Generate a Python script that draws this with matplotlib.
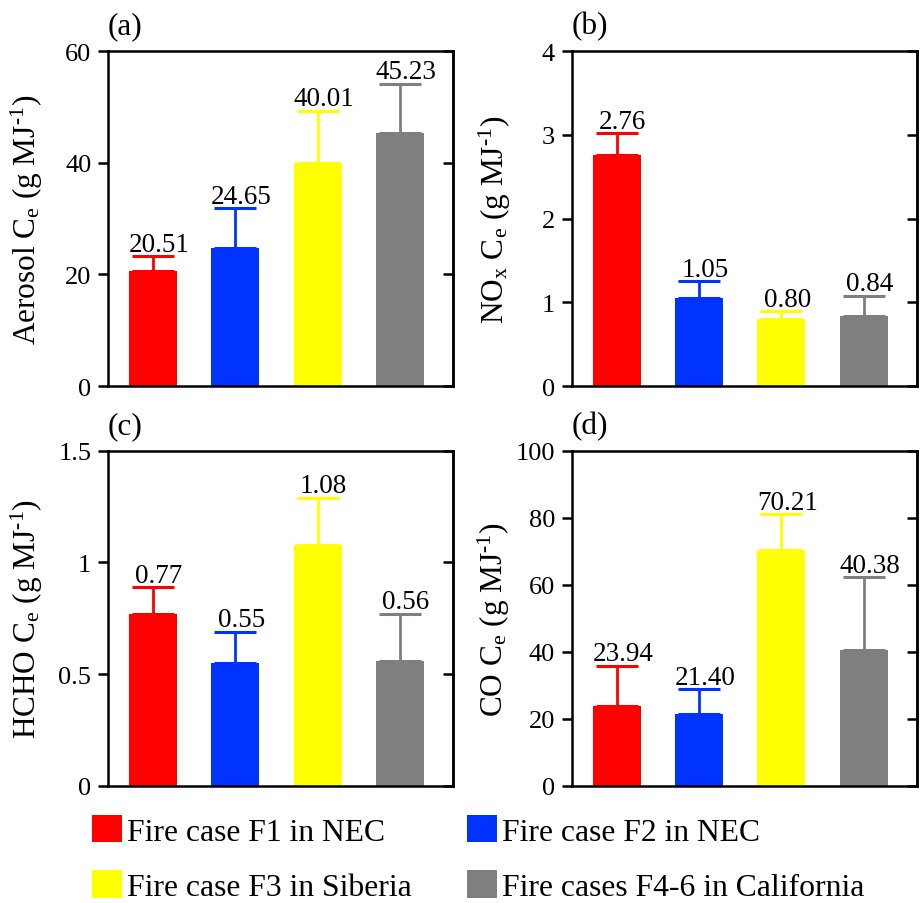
import numpy as np
import matplotlib.pyplot as plt
from matplotlib.patches import Patch
from matplotlib.ticker import FuncFormatter

plt.rcParams['font.family'] = ['Liberation Serif', 'DejaVu Serif']
plt.rcParams['mathtext.fontset'] = 'custom'
plt.rcParams['mathtext.rm'] = 'Liberation Serif'
plt.rcParams['mathtext.it'] = 'Liberation Serif:italic'

# Daten
cases = ['Fire case F1 in NEC', 'Fire case F2 in NEC',
         'Fire case F3 in Siberia', 'Fire cases F4-6 in California']
colors = ['#ff0000', '#0033ff', '#ffff00', '#7f7f7f']

aerosol = [20.51, 24.65, 40.01, 45.23]
aerosol_err = [2.8, 7.25, 9.3, 8.9]
nox = [2.76, 1.05, 0.80, 0.84]
nox_err = [0.26, 0.20, 0.09, 0.24]
hcho = [0.77, 0.55, 1.08, 0.56]
hcho_err = [0.12, 0.14, 0.21, 0.21]
co = [23.94, 21.40, 70.21, 40.38]
co_err = [11.86, 7.5, 10.89, 21.82]

unit = ' (g MJ$^{\\text{-1}}$)'
panels = [
    ('(a)', aerosol, aerosol_err, 'Aerosol C$_\\mathrm{e}$' + unit, [0, 20, 40, 60]),
    ('(b)', nox, nox_err, 'NO$_\\mathrm{x}$ C$_\\mathrm{e}$' + unit, [0, 1, 2, 3, 4]),
    ('(c)', hcho, hcho_err, 'HCHO C$_\\mathrm{e}$' + unit, [0, 0.5, 1, 1.5]),
    ('(d)', co, co_err, 'CO C$_\\mathrm{e}$' + unit, [0, 20, 40, 60, 80, 100]),
]

W, H = 923, 904
fig = plt.figure(figsize=(W / 100, H / 100), dpi=100)

# Achsenpositionen in Pixel (links, oben)
boxes = [(108, 52), (571.7, 52), (108, 451.7), (571.7, 451.7)]
aw, ah = 345, 335
label_x = [-0.183, -0.169, -0.183, -0.174]

x = np.arange(4)
lw = 1.8

for i, (tag, vals, errs, ylab, yt) in enumerate(panels):
    l, t = boxes[i]
    ax = fig.add_axes([l / W, 1 - (t + ah) / H, aw / W, ah / H])
    ax.bar(x, vals, width=0.583, color=colors, linewidth=0, zorder=2)
    for xi, v, e, c in zip(x, vals, errs, colors):
        ax.errorbar(xi, v, yerr=[[0], [e]], fmt='none', ecolor=c,
                    elinewidth=2.0, capsize=14.8, capthick=2.2, zorder=3)
        ax.annotate(f'{v:.2f}', (xi, v + e), xytext=(4.3, 3.8),
                    textcoords='offset points', ha='center', va='baseline',
                    fontsize=19.5)
    ax.set_xlim(-0.547, 3.644)
    ax.set_ylim(yt[0], yt[-1])
    ax.set_yticks(yt)
    ax.yaxis.set_major_formatter(FuncFormatter(lambda v, p: f'{v:g}'))
    ax.set_xticks([])
    ax.tick_params(axis='y', direction='out', length=7, width=lw,
                   labelsize=19, pad=5)
    for s in ax.spines.values():
        s.set_linewidth(lw)
    sec = ax.secondary_yaxis('right')
    sec.set_yticks(yt)
    sec.tick_params(axis='y', direction='in', length=7, width=lw, labelright=False)
    sec.spines['right'].set_linewidth(lw)
    ax.set_ylabel(ylab, fontsize=22.5)
    ax.yaxis.set_label_coords(label_x[i], 0.5)
    ax.text(0.0, 1.075, tag, transform=ax.transAxes, ha='left', va='center',
            fontsize=22.5)

# Legende
order = [0, 2, 1, 3]
handles = [Patch(facecolor=colors[k], edgecolor='none') for k in order]
labels = [cases[k] for k in order]
fig.legend(handles, labels, loc='upper left', bbox_to_anchor=(92 / W, 1 - 816 / H),
           ncol=2, frameon=False, borderpad=0, handlelength=0.95, handleheight=0.95,
           handletextpad=0.15, columnspacing=1.75, labelspacing=0.75, fontsize=22.8,
           borderaxespad=0)

fig.savefig('out.png', dpi=100)
